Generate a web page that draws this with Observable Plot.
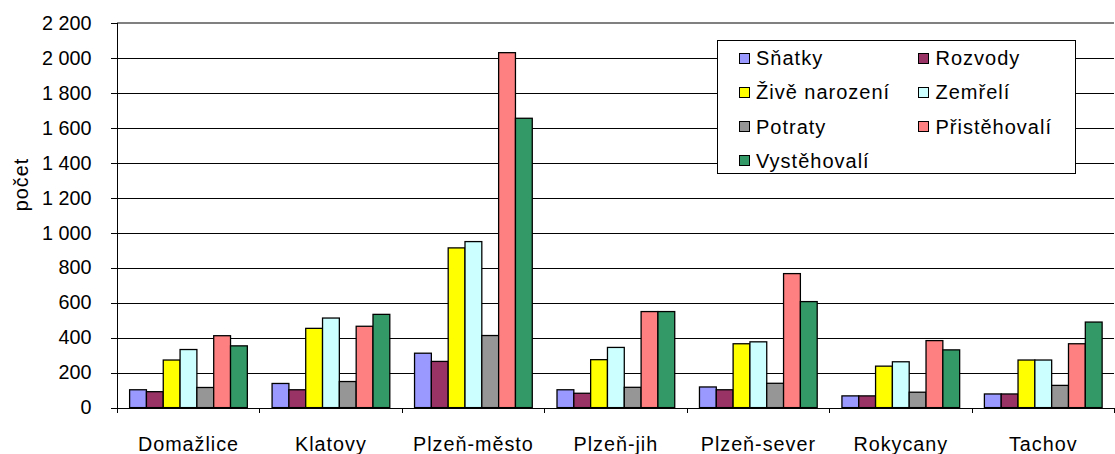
<!DOCTYPE html>
<html>
<head>
<meta charset="utf-8">
<script src="https://cdn.jsdelivr.net/npm/d3@7"></script>
<script src="https://cdn.jsdelivr.net/npm/@observablehq/plot@0.6"></script>
<style>
  html, body { margin: 0; padding: 0; background: #fff; }
  #wrap { position: relative; width: 1115px; height: 454px; overflow: hidden; font-family: "Liberation Sans", Arial, sans-serif; }
  #legend { position: absolute; left: 717px; top: 40px; width: 359px; height: 134px; box-sizing: border-box; border: 1px solid #000; background: #fff; }
  .sw { position: absolute; width: 11px; height: 11px; box-sizing: border-box; border: 1px solid #000; }
  .lt { position: absolute; font-size: 20px; letter-spacing: 1px; line-height: 20px; color: #000; white-space: nowrap; }
</style>
</head>
<body>
<div id="wrap"></div>
<script>
const districts = ["Domažlice", "Klatovy", "Plzeň-město", "Plzeň-jih", "Plzeň-sever", "Rokycany", "Tachov"];
const series = ["Sňatky", "Rozvody", "Živě narození", "Zemřelí", "Potraty", "Přistěhovalí", "Vystěhovalí"];
const colors = ["#9999FF", "#993366", "#FFFF00", "#CCFFFF", "#969696", "#FF8080", "#339966"];

const snatky     = [102, 138, 311, 102, 118, 67, 78];
const rozvody    = [91, 102, 264, 82, 102, 67, 78];
const narozeni   = [272, 453, 913, 274, 365, 237, 272];
const zemreli    = [332, 512, 949, 344, 376, 262, 272];
const potraty    = [115, 149, 412, 116, 139, 88, 127];
const pristeh    = [411, 465, 2029, 549, 766, 383, 365];
const vysteh     = [353, 533, 1654, 549, 606, 330, 489];

const yTicks = [0, 200, 400, 600, 800, 1000, 1200, 1400, 1600, 1800, 2000, 2200];
const yLabel = "počet";

const seriesValues = [snatky, rozvody, narozeni, zemreli, potraty, pristeh, vysteh];
const data = [];
districts.forEach((d, i) => {
  series.forEach((s, j) => data.push({district: d, series: s, value: seriesValues[j][i]}));
});

const fmt = d3.formatLocale({decimal: ",", thousands: "\u00a0", grouping: [3], currency: ["", ""]}).format(",");

const plot = Plot.plot({
  width: 1127,
  height: 454,
  marginLeft: 117,
  marginRight: 0,
  marginTop: 23,
  marginBottom: 42,
  style: {fontFamily: "'Liberation Sans', Arial, sans-serif", fontSize: "20px", color: "#000", background: "#fff", overflow: "visible"},
  fx: {domain: districts, paddingInner: 0, paddingOuter: 0, label: null, tickSize: 0, tickPadding: 29, axis: "bottom"},
  x: {domain: series, axis: null, paddingInner: 0, paddingOuter: 0.67},
  y: {domain: [0, 2200], ticks: yTicks, tickFormat: fmt, tickSize: 6, tickPadding: 20, label: null, axis: "left"},
  color: {domain: series, range: colors},
  marks: [
    Plot.ruleY(yTicks.filter(v => v > 0 && v < 2200), {stroke: "#000", strokeWidth: 1, shapeRendering: "crispEdges"}),
    Plot.ruleY([2200], {stroke: "#808080", strokeWidth: 2, shapeRendering: "crispEdges"}),
    Plot.ruleY([0], {stroke: "#000", strokeWidth: 1, shapeRendering: "crispEdges"}),
    Plot.barY(data, {fx: "district", x: "series", y: "value", fill: "series", stroke: "#000", strokeWidth: 1.3})
  ]
});

const wrap = document.getElementById("wrap");
wrap.appendChild(plot);

const svg = d3.select(plot);
svg.selectAll('g[aria-label="fx-axis tick label"] text').attr("letter-spacing", "1px");
svg.selectAll('g[aria-label="y-axis tick"]').attr("shape-rendering", "crispEdges");

const fx = plot.scale("fx");
const y = plot.scale("y");
const y0 = y.apply(0), yTop = y.apply(2200);
const bw = fx.bandwidth;
const g = svg.append("g").attr("stroke", "#000").attr("stroke-width", 1).attr("shape-rendering", "crispEdges");
// y axis line
g.append("line").attr("x1", fx.apply(districts[0]) + 0.5).attr("x2", fx.apply(districts[0]) + 0.5)
  .attr("y1", yTop).attr("y2", y0 + 5);
// group boundary ticks
districts.forEach(d => {
  const xr = Math.round(fx.apply(d) + bw) + 0.5;
  g.append("line").attr("x1", xr).attr("x2", xr).attr("y1", y0).attr("y2", y0 + 5);
});
// y label
svg.append("text").text(yLabel)
  .attr("transform", `translate(28,${(y0 + yTop) / 2 - 31}) rotate(-90)`)
  .attr("text-anchor", "middle").attr("letter-spacing", "1px")
  .attr("font-size", 20).attr("fill", "#000");

// legend
const legend = document.createElement("div");
legend.id = "legend";
series.forEach((s, i) => {
  const col = i % 2, row = Math.floor(i / 2);
  const cy = 17 + row * 34.3;
  const sw = document.createElement("div");
  sw.className = "sw";
  sw.style.left = (col ? 200 : 21) + "px";
  sw.style.top = (cy - 5.5) + "px";
  sw.style.background = colors[i];
  const t = document.createElement("div");
  t.className = "lt";
  t.textContent = s;
  t.style.left = (col ? 217.5 : 38) + "px";
  t.style.top = (cy - 10) + "px";
  legend.appendChild(sw);
  legend.appendChild(t);
});
wrap.appendChild(legend);
</script>
</body>
</html>
